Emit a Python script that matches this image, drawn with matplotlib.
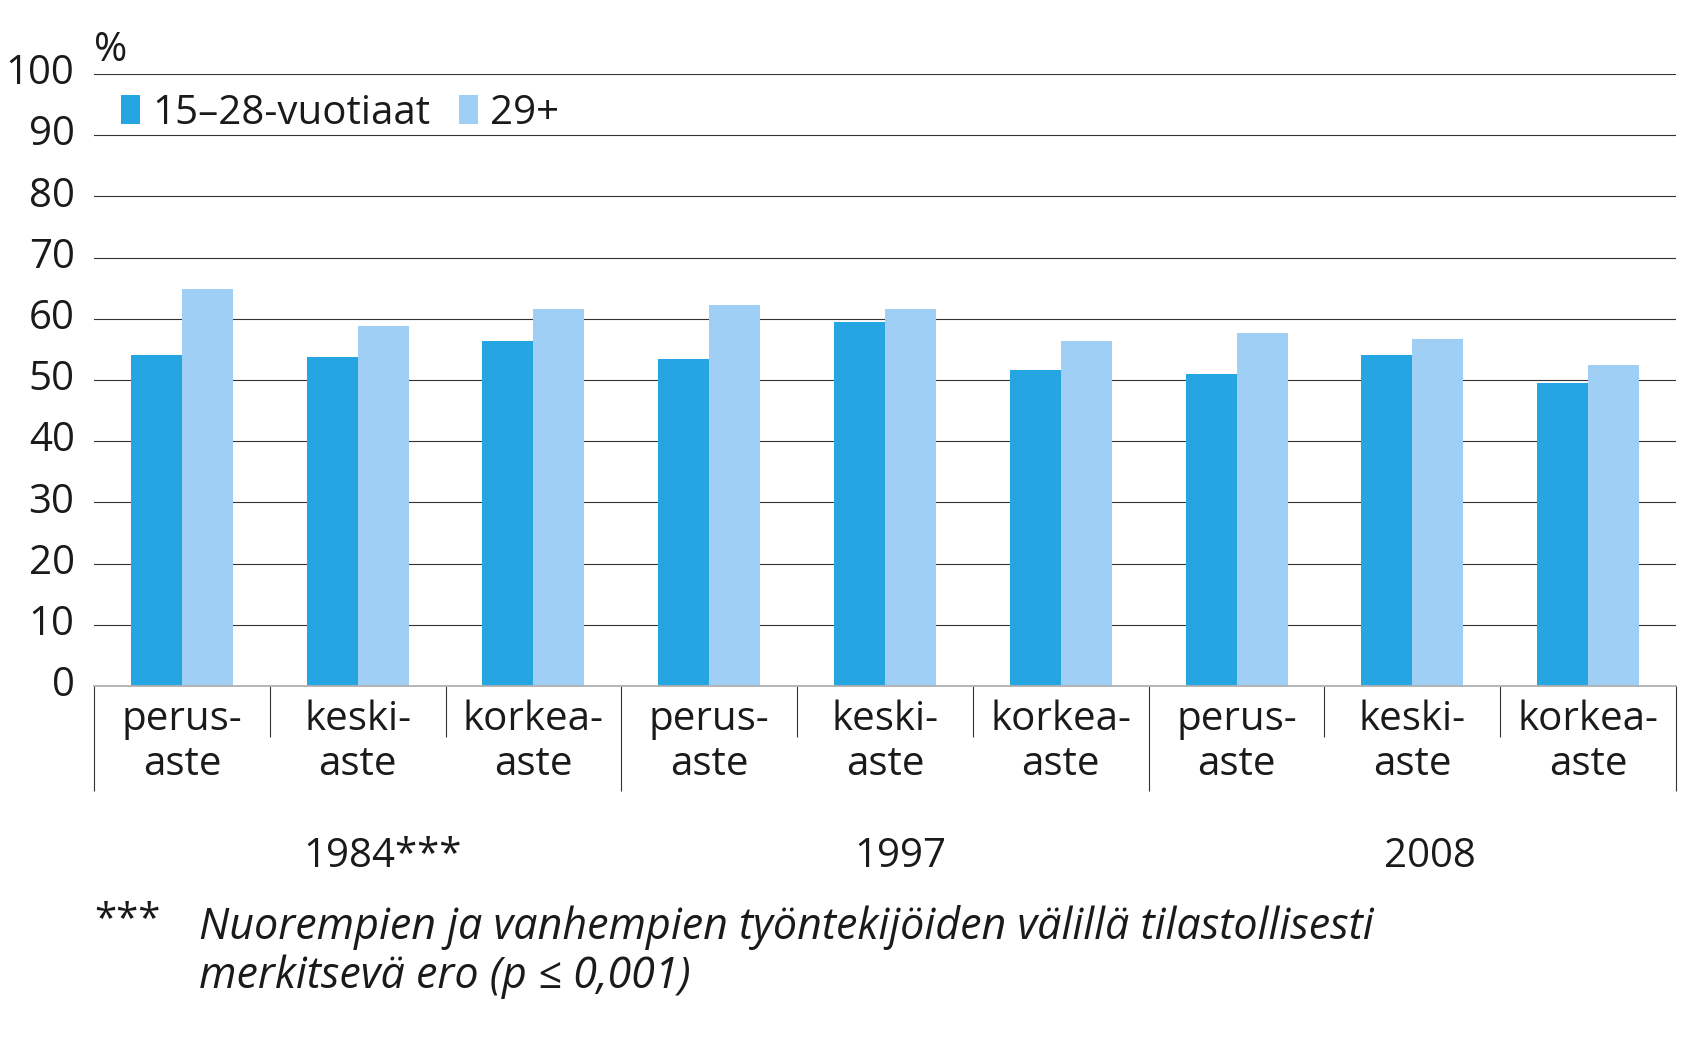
import numpy as np
import matplotlib.pyplot as plt
from matplotlib.transforms import offset_copy

plt.rcParams['font.family'] = ['Open Sans', 'DejaVu Sans']

# Data
years = ['1984***', '1997', '2008']
levels = ['perus-\naste', 'keski-\naste', 'korkea-\naste']
young = [54.1, 53.8, 56.3, 53.4, 59.5, 51.7, 50.9, 54.1, 49.5]   # 15-28-vuotiaat
older = [64.8, 58.8, 61.6, 62.3, 61.6, 56.3, 57.7, 56.7, 52.4]   # 29+
series_names = ['15\u201328-vuotiaat', '29+']
note_mark = '***'
note_text = ('Nuorempien ja vanhempien ty\u00f6ntekij\u00f6iden v\u00e4lill\u00e4 tilastollisesti\n'
             'merkitsev\u00e4 ero (p \u2264 0,001)')

c_dark = '#25a6e3'
c_light = '#9fcff4'
txt = '#1a1a1a'
fs = 29

W, H = 1683, 1058
fig = plt.figure(figsize=(W / 100, H / 100), dpi=100)
ax = fig.add_axes([94 / W, 1 - 686 / H, (1676 - 94) / W, (686 - 74) / H])

cats = levels * len(years)
x = np.arange(len(cats))
bw = 0.29
ax.bar(x - bw / 2, young, bw, color=c_dark, label=series_names[0], zorder=3)
ax.bar(x + bw / 2, older, bw, color=c_light, label=series_names[1], zorder=3)

ax.set_xlim(-0.5, len(cats) - 0.5)
ax.set_ylim(0, 100)

# gridlines
for v in range(10, 101, 10):
    ax.axhline(v, color='#333333', lw=0.8, zorder=1)

for s in ['top', 'right', 'left']:
    ax.spines[s].set_visible(False)
ax.spines['bottom'].set_color('#b0b0b0')
ax.spines['bottom'].set_linewidth(1.3)
ax.spines['bottom'].set_zorder(4)

ax.set_yticks(range(0, 101, 10))
ax.set_yticklabels([str(v) for v in range(0, 101, 10)], fontsize=fs, color=txt)
ax.tick_params(axis='y', length=0, pad=14)
ax.set_xticks([])
# lift the tick labels a little above their gridlines
for lab in ax.get_yticklabels():
    lab.set_transform(offset_copy(lab.get_transform(), fig=fig, x=0, y=5, units='dots'))

# category labels and separators below the axis
for i, lab in enumerate(cats):
    ax.text(i, -9.2, lab, ha='center', va='center', fontsize=fs, color=txt,
            linespacing=1.17, clip_on=False)
for b in range(len(cats) + 1):
    bottom = -17.2 if b % 3 == 0 else -8.3
    ax.plot([b - 0.5, b - 0.5], [0, bottom], color='#333333', lw=0.8,
            clip_on=False, solid_capstyle='butt')

year_offset = [0.14, 0.09, 0.1]
for g, yr in enumerate(years):
    ax.text(3 * g + 1 + year_offset[g], -27.9, yr, ha='center', va='center',
            fontsize=fs, color=txt, clip_on=False)

leg = ax.legend(loc='upper left', bbox_to_anchor=(121 / W, 1 - 93 / H),
                bbox_transform=fig.transFigure, ncol=2, frameon=False,
                fontsize=fs, handlelength=0.48, handleheight=0.75,
                handletextpad=0.3, columnspacing=0.7, borderpad=0,
                borderaxespad=0)
for t in leg.get_texts():
    t.set_color(txt)

fig.text(94 / W, 1 - 51 / H, '%', fontsize=fs, color=txt, ha='left', va='center')

fig.text(94 / W, 1 - 921 / H, note_mark, fontsize=fs, color=txt, ha='left', va='center')
fig.text(199 / W, 1 - 952 / H, note_text, fontsize=31, color=txt, ha='left',
         va='center', style='italic', linespacing=1.16)

fig.savefig('out.png', dpi=100)
